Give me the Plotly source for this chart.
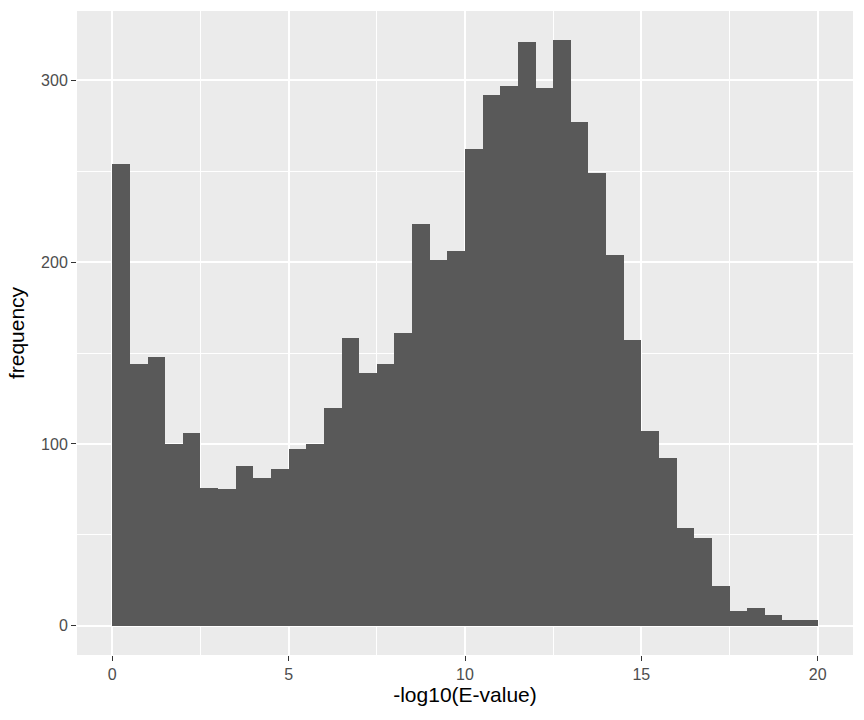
import numpy as np
import plotly.graph_objects as go

# Histogram of -log10(E-value): 40 bins of width 0.5 from 0 to 20
bin_start = 0.0
bin_width = 0.5
counts = [254, 144, 148, 100, 106, 76, 75, 88, 81, 86,
          97, 100, 120, 158, 139, 144, 161, 221, 201, 206,
          262, 292, 297, 321, 296, 322, 277, 249, 204, 157,
          107, 92, 54, 48, 22, 8, 10, 6, 3, 3]
x_ticks = [0, 5, 10, 15, 20]
x_tick_labels = ["0", "5", "10", "15", "20"]
y_ticks = [0, 100, 200, 300]
y_tick_labels = ["0", "100", "200", "300"]
x_title = "-log10(E-value)"
y_title = "frequency"

centers = bin_start + bin_width * (np.arange(len(counts)) + 0.5)

fig = go.Figure(go.Bar(
    x=centers, y=counts, width=bin_width,
    marker=dict(color="#595959", line=dict(width=0)),
    hoverinfo="x+y",
))

xmin, xmax = bin_start, bin_start + bin_width * len(counts)
xpad = 0.05 * (xmax - xmin)
ymax = max(counts)
ypad = 0.05 * ymax

font_family = "Liberation Sans, Arial, sans-serif"

fig.update_layout(
    width=864, height=720,
    margin=dict(l=77, r=11, t=11, b=65),
    paper_bgcolor="white",
    plot_bgcolor="#EBEBEB",
    bargap=0,
    showlegend=False,
    font=dict(family=font_family, color="#4D4D4D", size=16),
    xaxis=dict(
        range=[xmin - xpad, xmax + xpad],
        tickmode="array", tickvals=x_ticks, ticktext=x_tick_labels,
        ticks="outside", ticklen=5, tickwidth=1.1, tickcolor="#333333",
        tickfont=dict(size=16, color="#4D4D4D"),
        showgrid=True, gridcolor="white", gridwidth=1.8,
        minor=dict(dtick=2.5, tick0=0, showgrid=True, gridcolor="white", gridwidth=0.9, ticks=""),
        zeroline=False, showline=False,
        title=dict(text=x_title, font=dict(size=21, color="black"), standoff=0),
        automargin=False,
    ),
    yaxis=dict(
        range=[-ypad, ymax + ypad],
        tickmode="array", tickvals=y_ticks, ticktext=y_tick_labels,
        ticks="outside", ticklen=5, tickwidth=1.1, tickcolor="#333333",
        tickfont=dict(size=16, color="#4D4D4D"),
        showgrid=True, gridcolor="white", gridwidth=1.8,
        minor=dict(dtick=50, tick0=0, showgrid=True, gridcolor="white", gridwidth=0.9, ticks=""),
        zeroline=False, showline=False,
        title=dict(text=y_title, font=dict(size=21, color="black"), standoff=10),
        automargin=False,
    ),
)

fig.write_html(
    "out.html",
    config={"displayModeBar": False},
    post_script="document.body.style.margin='0';",
)
